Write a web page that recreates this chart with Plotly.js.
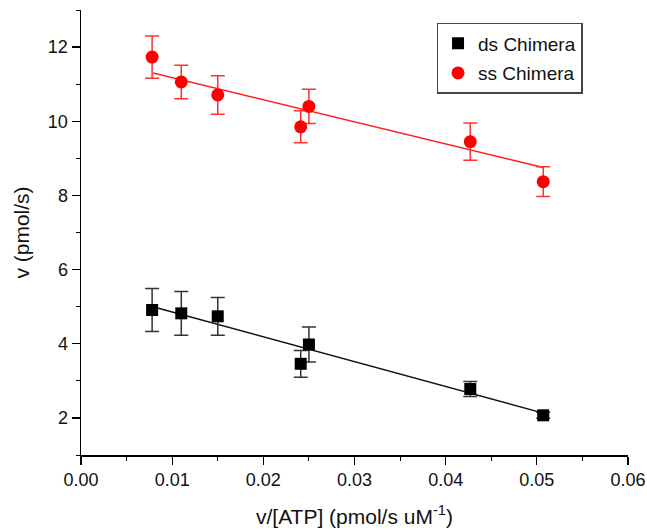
<!DOCTYPE html>
<html>
<head>
<meta charset="utf-8">
<script src="https://cdn.plot.ly/plotly-3.0.1.min.js"></script>
<style>html,body{margin:0;padding:0;background:#fff;}#chart{width:647px;height:530px;}</style>
</head>
<body>
<div id="chart"></div>
<script>
// data
const xVals = [0.0078, 0.0110, 0.0150, 0.0241, 0.0250, 0.0427, 0.0507];
const dsV   = [4.91, 4.82, 4.74, 3.46, 3.98, 2.78, 2.07];
const dsErr = [0.58, 0.59, 0.51, 0.36, 0.47, 0.20, 0.08];
const ssV   = [11.73, 11.06, 10.71, 9.85, 10.40, 9.45, 8.37];
const ssErr = [0.57, 0.45, 0.52, 0.43, 0.46, 0.50, 0.40];
const fitX     = [0.0079, 0.0507];
const fitDs    = [5.00, 2.13];
const fitSs    = [11.30, 8.75];
const xTicks = [0, 0.01, 0.02, 0.03, 0.04, 0.05, 0.06];
const xTickText = ["0.00", "0.01", "0.02", "0.03", "0.04", "0.05", "0.06"];
const yTicks = [2, 4, 6, 8, 10, 12];

const font = "Liberation Sans, Arial, sans-serif";
const traces = [
  {x: fitX, y: fitSs, mode: 'lines', line: {color: '#ff2020', width: 1.5}, showlegend: false, hoverinfo: 'skip'},
  {x: fitX, y: fitDs, mode: 'lines', line: {color: '#111', width: 1.5}, showlegend: false, hoverinfo: 'skip'},
  {x: xVals, y: dsV, name: 'ds Chimera', mode: 'markers', legendgroup: 'a',
   marker: {symbol: 'square', size: 12, color: '#000'},
   error_y: {type: 'data', array: dsErr, visible: true, color: '#333', thickness: 1.5, width: 7}},
  {x: xVals, y: ssV, name: 'ss Chimera', mode: 'markers', legendgroup: 'b',
   marker: {symbol: 'circle', size: 13, color: '#ff0000'},
   error_y: {type: 'data', array: ssErr, visible: true, color: '#ff3030', thickness: 1.5, width: 7}}
];

const layout = {
  width: 647, height: 530,
  margin: {l: 81, r: 19, t: 10, b: 75},
  paper_bgcolor: '#fff', plot_bgcolor: '#fff',
  font: {family: font, color: '#111', size: 18},
  showlegend: true,
  legend: {x: 0.650, y: 0.971, xanchor: 'left', yanchor: 'top',
           bordercolor: '#444', borderwidth: 1.5, bgcolor: '#fff',
           font: {family: font, size: 19}, tracegroupgap: 2, itemwidth: 30},
  xaxis: {range: [0, 0.06], tickvals: xTicks, ticktext: xTickText,
          showline: true, linecolor: '#000', linewidth: 1.5, showgrid: false, zeroline: false,
          ticks: 'outside', ticklen: 8, tickwidth: 1.2, tickcolor: '#000',
          tickfont: {family: font, size: 18},
          minor: {dtick: 0.005, ticks: 'outside', ticklen: 4, tickcolor: '#000', tickwidth: 1},
          title: {text: 'v/[ATP] (pmol/s uM<sup>-1</sup>)', font: {family: font, size: 21}, standoff: 20}},
  yaxis: {range: [1, 13], tickvals: yTicks,
          showline: true, linecolor: '#000', linewidth: 1.5, showgrid: false, zeroline: false,
          ticks: 'outside', ticklen: 8, tickwidth: 1.2, tickcolor: '#000',
          tickfont: {family: font, size: 18},
          minor: {dtick: 1, ticks: 'outside', ticklen: 4, tickcolor: '#000', tickwidth: 1},
          title: {text: 'v (pmol/s)', font: {family: font, size: 21}, standoff: 12}}
};

Plotly.newPlot('chart', traces, layout, {staticPlot: true, displayModeBar: false});
</script>
</body>
</html>
